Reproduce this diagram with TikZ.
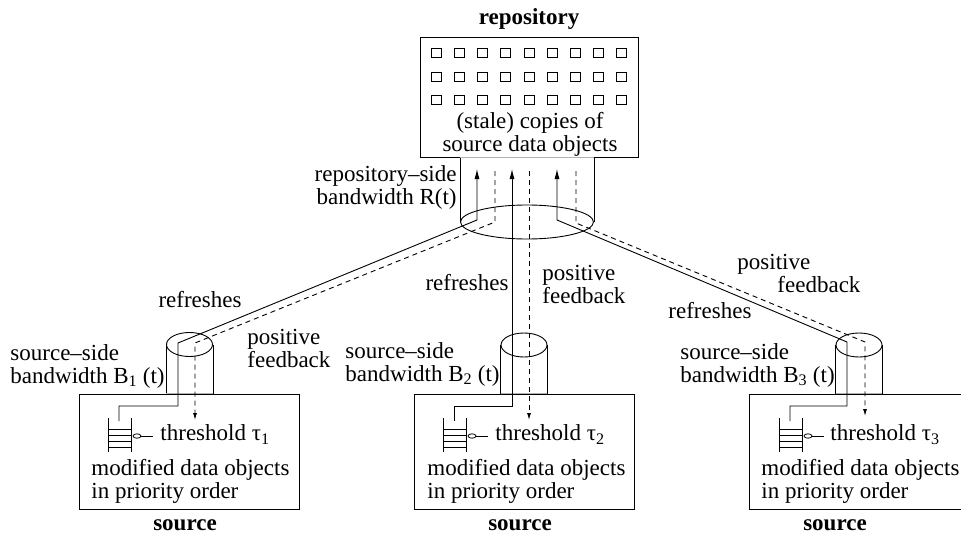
\documentclass[tikz,border=0pt]{standalone}
\usepackage{fontspec}
\setmainfont{Liberation Serif}
\usetikzlibrary{arrows.meta,shapes.geometric}
\newcommand\myfs{\fontsize{23}{23}\selectfont}
\begin{document}
\begin{tikzpicture}[x=1pt,y=-1pt,line width=0.9pt,
  font=\myfs,
  box/.style={draw, minimum width=220pt, minimum height=115pt, inner sep=0pt},
  cyl/.style={draw, ellipse, inner sep=0pt},
  lbl/.style={inner sep=0pt, align=left, anchor=west, font=\myfs},
  one/.style={inner sep=0pt, text height=16pt, text depth=5pt, font=\myfs},
  ttl/.style={inner sep=0pt, text height=16pt, text depth=3pt, font=\myfs\bfseries},
  sol/.style={-{Latex[length=10pt,width=5pt]}},
  dsh/.style={dash pattern=on 5pt off 4pt, -{Latex[length=7pt,width=4pt]}},
  thin/.style={line width=0.8pt}]
\useasboundingbox (0,0) rectangle (961,535);

% ---------------- repository ----------------
\node[box, minimum width=218pt, minimum height=120pt] (repo) at (529,97) {};
\node[ttl] (repot) at (529,18) {repository};
\foreach \i in {0,...,8}
  \foreach \j in {0,1,2}
    \draw[thin] (431.5+23.1*\i,48.5+23.5*\j) rectangle ++(10,9);
\node[lbl, anchor=center, align=center] (repotxt) at (530,134.5) {(stale) copies of\\source data objects};

\node[cyl, minimum width=133pt, minimum height=34pt] (rcyl) at (527,222) {};
\draw (rcyl.west) -- (rcyl.west |- repo.south);
\draw (rcyl.east) -- (rcyl.east |- repo.south);
\draw[white, line width=1.2pt] (rcyl.west |- repo.south) -- (rcyl.east |- repo.south);
\draw[gray!60] (rcyl.west |- repo.south) -- (rcyl.east |- repo.south);
\node[lbl, anchor=east, align=right] (rbw) at (457,187) {repository–side\\bandwidth R(t)};

% ---------------- sources ----------------
\node[box] (s1) at (189,451.5) {};
\node[box] (s2) at (524,451.5) {};
\node[box] (s3) at (859,451.5) {};

\node[cyl, minimum width=46pt, minimum height=24pt] (c1) at (189.5,344.5) {};
\node[cyl, minimum width=46pt, minimum height=24pt] (c2) at (524,345) {};
\node[cyl, minimum width=46pt, minimum height=24pt] (c3) at (859,345) {};
\foreach \c/\s in {c1/s1,c2/s2,c3/s3}{
  \draw (\c.west) -- (\c.west |- \s.north);
  \draw (\c.east) -- (\c.east |- \s.north);
  \draw[white, line width=1.2pt] (\c.west |- \s.north) -- (\c.east |- \s.north);
  \draw[gray!60] (\c.west |- \s.north) -- (\c.east |- \s.north);
}

% queues with threshold pointers
\foreach \qx in {108,443,779}{
  \draw[thin] (\qx,418) -- (\qx,452);
  \draw[thin] (\qx+23,418) -- (\qx+23,452);
  \foreach \qy in {429.5,435.5,441.5,447.5}
    \draw[thin] (\qx,\qy) -- (\qx+23,\qy);
  \draw[thin] (\qx+29,436) ellipse [x radius=4, y radius=2.2];
  \draw[thin] (\qx+33,436) -- (\qx+45,436);
}

% ---------------- connectors ----------------
% source 1
\coordinate (q1in) at (119,421);
\coordinate (k1a) at (119,406);
\coordinate (k1b) at (178,406);
\coordinate (k1c) at (178,343);
\coordinate (r1a) at (477,220);
\coordinate (r1b) at (477,169);
\draw[sol] (q1in) -- (k1a) -- (k1b) -- (k1c) -- (r1a) -- (r1b);
\coordinate (d1a) at (495,171);
\coordinate (d1b) at (495,222);
\coordinate (d1c) at (195,343);
\coordinate (d1d) at (195,420);
\draw[dsh] (d1a) -- (d1b) -- (d1c) -- (d1d);

% source 2
\coordinate (q2in) at (454,421);
\coordinate (k2a) at (454,406);
\coordinate (k2b) at (512,406);
\coordinate (r2b) at (512,169);
\draw[sol] (q2in) -- (k2a) -- (k2b) -- (r2b);
\coordinate (d2a) at (529,171);
\coordinate (d2d) at (529,420);
\draw[dsh] (d2a) -- (d2d);

% source 3
\coordinate (q3in) at (790,421);
\coordinate (k3a) at (790,406);
\coordinate (k3b) at (847,406);
\coordinate (k3c) at (847,342);
\coordinate (r3a) at (557,220);
\coordinate (r3b) at (557,169);
\draw[sol] (q3in) -- (k3a) -- (k3b) -- (k3c) -- (r3a) -- (r3b);
\coordinate (d3a) at (576,171);
\coordinate (d3b) at (576,223);
\coordinate (d3c) at (865,342);
\coordinate (d3d) at (865,416);
\draw[dsh] (d3a) -- (d3b) -- (d3c) -- (d3d);

% ---------------- labels ----------------
% source 1
\node[lbl] (bw1) at (10,366) {source–side\\bandwidth B\textsubscript{1} (t)};
\node[one] (rf1) at (200,302) {refreshes};
\node[lbl] (pf1) at (247,348) {positive\\feedback};
\node[lbl] (md1) at (91,481) {modified data objects\\in priority order};
\node[one, anchor=west] (th1) at (160,435) {threshold τ\textsubscript{1}};
\node[ttl] (so1) at (185,524) {source};

% source 2
\node[lbl] (bw2) at (345,364) {source–side\\bandwidth B\textsubscript{2} (t)};
\node[one] (rf2) at (467,285) {refreshes};
\node[lbl] (pf2) at (542,284) {positive\\feedback};
\node[lbl] (md2) at (427,481) {modified data objects\\in priority order};
\node[one, anchor=west] (th2) at (495,435) {threshold τ\textsubscript{2}};
\node[ttl] (so2) at (520,524) {source};

% source 3
\node[lbl] (bw3) at (680,365) {source–side\\bandwidth B\textsubscript{3} (t)};
\node[one, anchor=west] (rf3) at (668,313) {refreshes};
\node[lbl] (pf3) at (737,273.5) {positive\\\hspace*{40pt}feedback};
\node[lbl] (md3) at (761,481) {modified data objects\\in priority order};
\node[one, anchor=west] (th3) at (830,435) {threshold τ\textsubscript{3}};
\node[ttl] (so3) at (835,524) {source};
\end{tikzpicture}
\end{document}
